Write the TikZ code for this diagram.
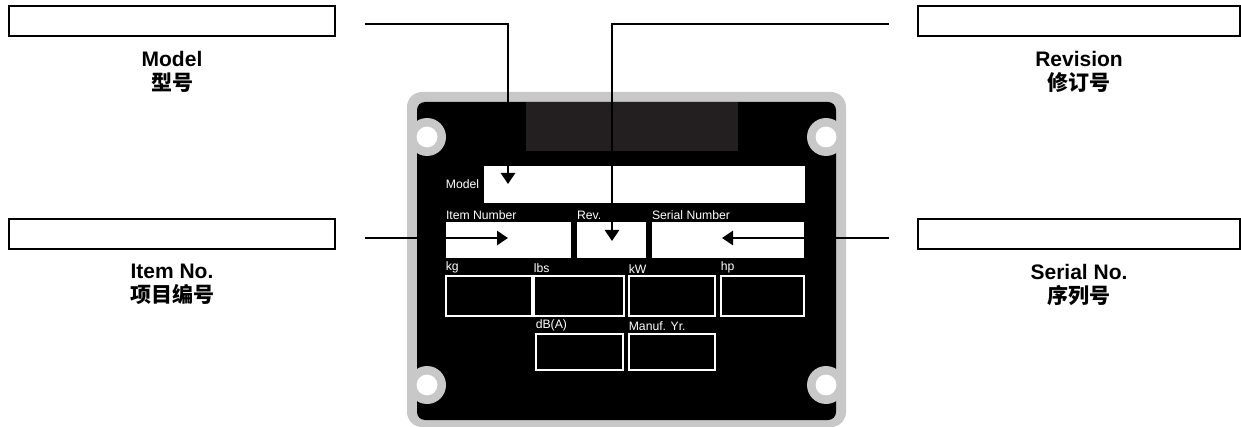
\documentclass[tikz,border=0pt]{standalone}
\usepackage{fontspec}
\setmainfont{Liberation Sans}
\newfontfamily\cjk{Noto Sans CJK SC}
\usetikzlibrary{positioning,arrows.meta}

\definecolor{plategrey}{RGB}{200,200,200}
\definecolor{darkpanel}{RGB}{35,31,32}

\begin{document}
\begin{tikzpicture}[
    x=0.5pt, y=-0.5pt, % one unit is one pixel of the layout
    node distance = 6.5pt,
    labelbox/.style={draw, line width=1pt, minimum height=15pt, inner sep=0pt},
    caption/.style={font=\bfseries\fontsize{10.5}{12}\selectfont, align=center, inner sep=0pt},
    field/.style={fill=white, inner sep=0pt, minimum height=18pt},
    unitbox/.style={draw=white, line width=0.6pt, inner sep=0pt, minimum height=20pt, minimum width=43pt},
    platetext/.style={text=white, font=\fontsize{6.1}{6.5}\selectfont, inner xsep=0pt, inner ysep=1pt},
    pointer/.style={line width=1.4pt, -{Triangle[length=5.5pt, width=7pt]}},
]
\useasboundingbox (0,0) rectangle (1241,427);

% The plate: grey frame, black face, mounting holes
\fill[plategrey, rounded corners=7.5pt] (407,92) rectangle (846,427);
\fill[black, rounded corners=4pt] (417,102) rectangle (836,420);
\foreach \hx/\hy in {427/137, 826/137, 427/385, 826/385} {
    \fill[plategrey] (\hx,\hy) circle[radius=9.5pt];
    \fill[white] (\hx,\hy) circle[radius=5.2pt];
}
\fill[darkpanel] (526,102) rectangle (738,151);

% Fields on the plate
\node[field, minimum width=160.5pt, minimum height=18.5pt,
      label={[platetext, inner xsep=2pt, anchor=east]west:Model}] (modelfield) at (644.5,184.5) {};
\node[field, minimum width=62.5pt,
      label={[platetext, anchor=south west]north west:Item Number}] (itemfield) at (508.5,240) {};
\node[field, minimum width=34.5pt,
      label={[platetext, anchor=south west]north west:Rev.}] (revfield) at (611.5,240) {};
\node[field, minimum width=76pt,
      label={[platetext, anchor=south west]north west:Serial Number}] (serialfield) at (728,240) {};

\node[unitbox, label={[platetext, anchor=south west]north west:kg}] (kgbox) at (489,296) {};
\node[unitbox, minimum width=45pt, label={[platetext, anchor=south west]north west:lbs}] (lbsbox) at (579,296) {};
\node[unitbox, label={[platetext, anchor=south west]north west:kW}] (kwbox) at (672,296) {};
\node[unitbox, minimum width=41.5pt, label={[platetext, anchor=south west]north west:hp}] (hpbox) at (762.5,296) {};
\node[unitbox, minimum width=43.5pt, minimum height=18pt,
      label={[platetext, anchor=south west]north west:dB(A)}] (dbbox) at (579.5,352) {};
\node[unitbox, minimum height=18pt,
      label={[platetext, anchor=south west]north west:Manuf. Yr.}] (yearbox) at (672,352) {};

% Blank boxes with their captions
\node[labelbox, minimum width=163pt] (modelbox) at (172,21.5) {};
\node[caption, below=of modelbox] (modelcap) {Model\\{\cjk 型号}};

\node[labelbox, minimum width=163pt] (itembox) at (172,234.5) {};
\node[caption, below=of itembox] (itemcap) {Item No.\\{\cjk 项目编号}};

\node[labelbox, minimum width=161pt] (revbox) at (1079,21.5) {};
\node[caption, below=of revbox] (revcap) {Revision\\{\cjk 修订号}};

\node[labelbox, minimum width=161pt] (serialbox) at (1079,234.5) {};
\node[caption, below=of serialbox] (serialcap) {Serial No.\\{\cjk 序列号}};

% Pointers from the boxes into the plate fields
\coordinate (modelstart) at (365,24);
\coordinate (modeltip) at (508,184);
\coordinate (revstart) at (889,24);
\coordinate (revtip) at (612,241);
\coordinate (itemstart) at (365,238);
\coordinate (itemtip) at (508,238);
\coordinate (serialstart) at (889,238);
\coordinate (serialtip) at (722,238);

\draw[pointer] (modelstart) -| (modeltip);
\draw[pointer] (revstart) -| (revtip);
\draw[pointer] (itemstart) -- (itemtip);
\draw[pointer] (serialstart) -- (serialtip);

\end{tikzpicture}
\end{document}
